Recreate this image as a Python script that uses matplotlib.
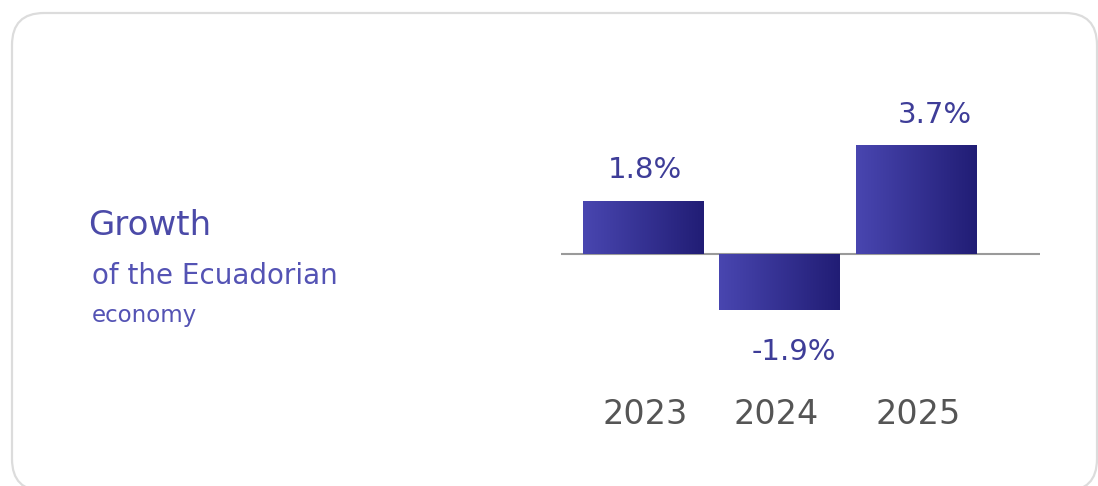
import matplotlib

matplotlib.use("Agg")
import matplotlib.pyplot as plt
import numpy as np
from matplotlib.colors import LinearSegmentedColormap
from matplotlib.patches import FancyBboxPatch

YEARS = ["2023", "2024", "2025"]
GROWTH = [1.8, -1.9, 3.7]
VALUE_LABELS = ["1.8%", "-1.9%", "3.7%"]

W, H = 1098, 486
BAR_LEFT = "#4946b0"
BAR_RIGHT = "#211d75"
TITLE_COLOR = "#4b4aa8"
SUB_COLOR = "#5453b4"
LABEL_COLOR = "#3e3d98"
YEAR_COLOR = "#555555"


def main() -> None:
    plt.rcParams["font.family"] = ["DejaVu Sans"]
    fig = plt.figure(figsize=(W / 100, H / 100), dpi=100)

    # background card, drawn in pixel units (bottom edge runs off the image)
    bg = fig.add_axes([0, 0, 1, 1])
    bg.set_xlim(0, W)
    bg.set_ylim(H, 0)
    bg.axis("off")
    card = FancyBboxPatch(
        (12, 13), 1085, 478,
        boxstyle="round,pad=0,rounding_size=32",
        facecolor="white", edgecolor="#dcdcdc", linewidth=1.6,
    )
    bg.add_patch(card)
    bg.text(88, 235, "Growth", fontsize=24.5, color=TITLE_COLOR, va="baseline")
    bg.text(92, 284, "of the Ecuadorian", fontsize=20, color=SUB_COLOR, va="baseline")
    bg.text(92, 322, "economy", fontsize=16.5, color=SUB_COLOR, va="baseline")

    # bar axes: 561..1040 px wide, 80..380 px tall
    ax = fig.add_axes([561 / W, (H - 380) / H, (1040 - 561) / W, 300 / H])
    ax.axis("off")
    px_per_unit = 29.5
    ax.axhline(0, color="#9a9a9a", linewidth=1.5, zorder=1)

    cmap = LinearSegmentedColormap.from_list("bar", [BAR_LEFT, BAR_RIGHT])
    grad = np.linspace(0, 1, 256).reshape(1, -1)
    xs = np.arange(len(YEARS))
    bars = ax.bar(xs, GROWTH, width=0.88, color="none", edgecolor="none", zorder=2)
    for bar in bars:
        x0, y0 = bar.get_x(), bar.get_y()
        img = ax.imshow(
            grad, cmap=cmap, aspect="auto", zorder=2,
            extent=[x0, x0 + bar.get_width(), y0, y0 + bar.get_height()],
        )
        img.set_clip_path(bar)

    label_dx = [2, 15, 19]
    label_dy = [31, -42, 30]
    for x, v, text, dx, dy in zip(xs, GROWTH, VALUE_LABELS, label_dx, label_dy):
        ax.annotate(
            text, (x, v), xytext=(dx, dy), textcoords="offset pixels",
            ha="center", va="center", fontsize=21, color=LABEL_COLOR,
        )
    year_dx = [2, -3, 2]
    for x, year, dx in zip(xs, YEARS, year_dx):
        ax.annotate(
            year, (x, 0), xytext=(dx, -160), textcoords="offset pixels",
            ha="center", va="center", fontsize=24, color=YEAR_COLOR,
        )
    ax.set_xlim(-0.60, 2.91)
    ax.set_ylim(-(380 - 254) / px_per_unit, (254 - 80) / px_per_unit)

    fig.savefig("out.png", dpi=100)
    plt.close(fig)


if __name__ == "__main__":
    main()
